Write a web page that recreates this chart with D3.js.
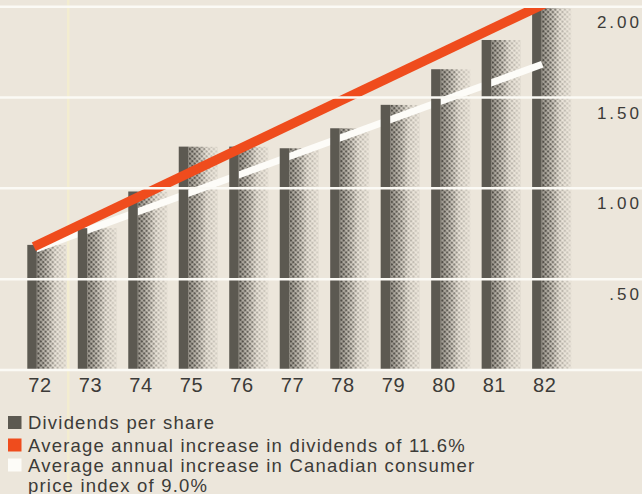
<!DOCTYPE html>
<html>
<head>
<meta charset="utf-8">
<script src="https://cdn.jsdelivr.net/npm/d3@7"></script>
<style>
  html, body { margin: 0; padding: 0; background: #ece6db; }
  svg { display: block; }
  text { font-family: "Liberation Sans", Arial, sans-serif; }
</style>
</head>
<body>
<script>
// Dividends per share, 1972–1982
const years = ["72", "73", "74", "75", "76", "77", "78", "79", "80", "81", "82"];
const dividends = [0.686, 0.778, 0.98, 1.227, 1.227, 1.218, 1.328, 1.457, 1.653, 1.814, 1.99];

// Value axis
const yTicks = [0.5, 1, 1.5, 2];
const yTickLabels = [".50", "1.00", "1.50", "2.00"];
const gridValues = [0, 0.5, 1, 1.5, 2];

// Trend lines: [year position, value] at each end
const dividendTrend = [[72.13, 0.676], [82.32, 2.024]];
const cpiTrend = [[72.13, 0.66], [82.2, 1.68]];

const legendLabels = [
  ["Dividends per share"],
  ["Average annual increase in dividends of 11.6%"],
  ["Average annual increase in Canadian consumer", "price index of 9.0%"]
];
const legendColors = ["#5c5951", "#ef4c1d", "#fdfcf8"];

const W = 642, H = 494;
const barColor = "#5c5951";
const dotColor = "#4f4c45";
const textColor = "#3c3b38";
const stripeW = 9.5;

const svg = d3.select("body").append("svg").attr("width", W).attr("height", H);
const defs = svg.append("defs");

// halftone screen for the shaded side of each bar
const pat = defs.append("pattern").attr("id", "dots")
  .attr("width", 3.4).attr("height", 3.4)
  .attr("patternUnits", "userSpaceOnUse")
  .attr("patternTransform", "rotate(45)");
pat.append("circle").attr("cx", 1.7).attr("cy", 1.7).attr("r", 1.35).attr("fill", dotColor);

const fade = defs.append("linearGradient").attr("id", "fade").attr("x1", 0).attr("x2", 1).attr("y1", 0).attr("y2", 0);
[[0, 1], [0.35, 0.75], [0.65, 0.35], [1, 0.12]].forEach(([o, a]) =>
  fade.append("stop").attr("offset", o).attr("stop-color", "#fff").attr("stop-opacity", a));
const mask = defs.append("mask").attr("id", "fadeMask").attr("maskContentUnits", "objectBoundingBox");
mask.append("rect").attr("width", 1).attr("height", 1).attr("fill", "url(#fade)");

const tone = defs.append("linearGradient").attr("id", "tone").attr("x1", 0).attr("x2", 1).attr("y1", 0).attr("y2", 0);
[[0, 0.55], [0.35, 0.2], [0.6, 0], [1, 0]].forEach(([o, a]) =>
  tone.append("stop").attr("offset", o).attr("stop-color", barColor).attr("stop-opacity", a));

// Scales
const x = d3.scaleBand().domain(years).range([27.3, 571.5]).paddingInner(0.22).paddingOuter(0);
const y = d3.scaleLinear().domain([0, 2]).range([369.5, 6.2]);
const xYear = d3.scaleLinear().domain([72, 82]).range([x("72"), x("82")]);
const bw = x.bandwidth();

defs.append("clipPath").attr("id", "plotClip")
  .append("rect").attr("x", 0).attr("y", y(2)).attr("width", W).attr("height", y(0) - y(2));

// faint fold in the paper
svg.append("rect").attr("x", 67).attr("y", 0).attr("width", 2.5).attr("height", H)
  .attr("fill", "#f6efcc").attr("opacity", 0.7);

// Bars: shaded halftone body
const bars = svg.append("g");
bars.selectAll("rect.tone").data(dividends).join("rect").attr("class", "tone")
  .attr("x", (d, i) => x(years[i]) + stripeW).attr("y", d => y(d))
  .attr("width", bw - stripeW).attr("height", d => y(0) - y(d))
  .attr("fill", "url(#tone)");
bars.selectAll("rect.dots").data(dividends).join("rect").attr("class", "dots")
  .attr("x", (d, i) => x(years[i]) + stripeW).attr("y", d => y(d))
  .attr("width", bw - stripeW).attr("height", d => y(0) - y(d))
  .attr("fill", "url(#dots)").attr("mask", "url(#fadeMask)");

// Solid dark edge of each bar. The white CPI line passes behind the edges
// it crosses, and sits on top of the edge where it ends.
const cpiEndX = xYear(cpiTrend[cpiTrend.length - 1][0]);
const edges = dividends.map((d, i) => ({ d, x0: x(years[i]) }));
const crossed = edges.filter(e => e.x0 + stripeW < cpiEndX - 1);
const beyond = edges.filter(e => e.x0 + stripeW >= cpiEndX - 1);
const drawEdges = (g, data) => g.selectAll("rect").data(data).join("rect")
  .attr("x", e => e.x0).attr("y", e => y(e.d))
  .attr("width", stripeW).attr("height", e => y(0) - y(e.d))
  .attr("fill", barColor);

drawEdges(svg.append("g"), beyond);

const line = d3.line().x(d => xYear(d[0])).y(d => y(d[1]));
svg.append("path").datum(cpiTrend).attr("d", line)
  .attr("fill", "none").attr("stroke", "#fdfcf8").attr("stroke-width", 7)
  .attr("clip-path", "url(#plotClip)");

drawEdges(svg.append("g"), crossed);

// Dividend trend (red)
svg.append("path").datum(dividendTrend).attr("d", line)
  .attr("fill", "none").attr("stroke", "#ef4c1d").attr("stroke-width", 9.5)
  .attr("clip-path", "url(#plotClip)");

// Gridlines across the full width
const grid = svg.append("g").call(d3.axisLeft(y).tickValues(gridValues).tickSize(-W).tickFormat(""));
grid.select(".domain").remove();
grid.selectAll("line").attr("stroke", "#fbfaf5").attr("stroke-width", 2.5);

// Value labels on the right, under each gridline
const yAxis = svg.append("g").attr("transform", `translate(${W},0)`)
  .call(d3.axisLeft(y).tickValues(yTicks).tickSize(0)
    .tickFormat(d => yTickLabels[yTicks.indexOf(d)]));
yAxis.select(".domain").remove();
yAxis.selectAll("text")
  .attr("x", 0).attr("dy", 21).attr("text-anchor", "end")
  .attr("font-size", 17).attr("letter-spacing", 3)
  .attr("fill", textColor).style("font-family", "'Liberation Sans', Arial, sans-serif");

// Year labels
const xAxis = svg.append("g").attr("transform", `translate(0,${y(0)})`)
  .call(d3.axisBottom(x).tickSize(0));
xAxis.select(".domain").remove();
xAxis.selectAll("text")
  .attr("x", -bw / 2 + 1).attr("y", 0).attr("dy", 22).attr("text-anchor", "start")
  .attr("font-size", 20).attr("letter-spacing", 0.6)
  .attr("fill", textColor).style("font-family", "'Liberation Sans', Arial, sans-serif");

// Legend
const lineBaselines = [[429], [451.5], [471.5, 491.5]];
const legend = svg.append("g");
legendLabels.forEach((lines, i) => {
  const b0 = lineBaselines[i][0];
  legend.append("rect").attr("x", 8).attr("y", b0 - 13).attr("width", 13.5).attr("height", 13)
    .attr("fill", legendColors[i]);
  lines.forEach((t, j) => {
    legend.append("text").attr("x", 28).attr("y", lineBaselines[i][j])
      .attr("font-size", 18.5).attr("letter-spacing", 1.2).attr("fill", textColor).text(t);
  });
});
</script>
</body>
</html>
